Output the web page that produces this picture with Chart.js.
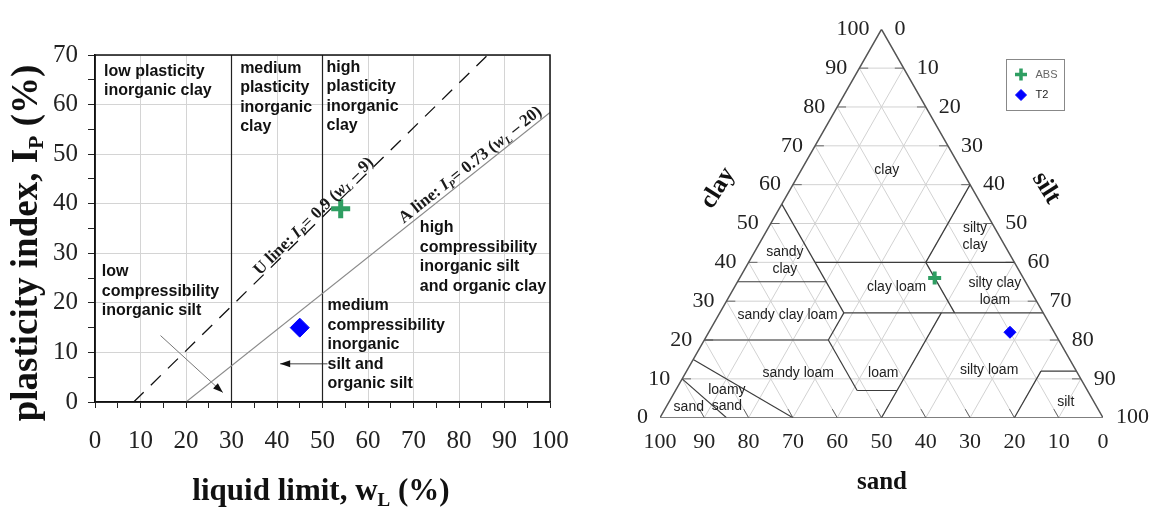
<!DOCTYPE html>
<html lang="en">
<head>
<meta charset="utf-8">
<title>Plasticity chart and soil texture triangle</title>
<script src="https://cdn.jsdelivr.net/npm/chart.js@4.4.1/dist/chart.umd.min.js"></script>
<style>
  html, body { margin: 0; padding: 0; background: #fff; }
  #wrap { position: relative; width: 1149px; height: 509px; overflow: hidden; }
  canvas { position: absolute; top: 0; }
  #plasticity-chart { left: 0; }
  #texture-chart { left: 600px; }
</style>
</head>
<body>
<div id="wrap">
  <canvas id="plasticity-chart" width="600" height="509"></canvas>
  <canvas id="texture-chart" width="549" height="509"></canvas>
</div>
<script>
// samples
const sampleNames = ["ABS", "T2"];
const liquidLimit = [54, 45];
const plasticityIndex = [39, 15];
const sampleSand = [20, 10];
const sampleClay = [36, 22];

// plasticity chart
const uLineWL = [8.5, 86.3];
const uLineIP = [0, 70];
const aLineWL = [20, 100];
const aLineIP = [0, 58.4];
const limitWL = [30, 50];
const limitIP = [0, 70];
const arrowDiagWL = [14.4, 28.1];
const arrowDiagIP = [13.4, 1.9];
const arrowFlatWL = [51.1, 40.7];
const arrowFlatIP = [7.7, 7.7];

const plasticityZones = [
  { lines: ["low plasticity", "inorganic clay"], wl: 2.0, ip: 66.7 },
  { lines: ["medium", "plasticity", "inorganic", "clay"], wl: 31.9, ip: 67.3 },
  { lines: ["high", "plasticity", "inorganic", "clay"], wl: 50.9, ip: 67.5 },
  { lines: ["low", "compressibility", "inorganic silt"], wl: 1.5, ip: 26.3 },
  { lines: ["high", "compressibility", "inorganic silt", "and organic clay"], wl: 71.4, ip: 35.1 },
  { lines: ["medium", "compressibility", "inorganic", "silt and", "organic silt"], wl: 51.1, ip: 19.4 }
];

// texture triangle (points are [sand, clay], silt = 100 - sand - clay)
const textureTicks = [0, 10, 20, 30, 40, 50, 60, 70, 80, 90, 100];
const textureBoundaries = [
  [[45, 55], [45, 27]],
  [[45, 40], [0, 40]],
  [[20, 40], [0, 60]],
  [[65, 35], [45, 35]],
  [[45, 27], [0, 27]],
  [[20, 40], [20, 27]],
  [[80, 20], [52, 20]],
  [[52, 20], [45, 27]],
  [[52, 20], [52, 7]],
  [[52, 7], [43, 7]],
  [[23, 27], [50, 0]],
  [[85, 15], [70, 0]],
  [[90, 10], [85, 0]],
  [[20, 0], [8, 12]],
  [[8, 12], [0, 12]]
];
const textureZones = [
  { lines: ["clay"], x: 51.2, y: 63.8 },
  { lines: ["silty", "clay"], x: 71.1, y: 46.6 },
  { lines: ["sandy", "clay"], x: 28.2, y: 40.5 },
  { lines: ["clay loam"], x: 53.4, y: 33.7 },
  { lines: ["silty clay", "loam"], x: 75.6, y: 32.5 },
  { lines: ["sandy clay loam"], x: 28.8, y: 26.4 },
  { lines: ["sandy loam"], x: 31.2, y: 11.6 },
  { lines: ["loam"], x: 50.4, y: 11.6 },
  { lines: ["silty loam"], x: 74.3, y: 12.3 },
  { lines: ["loamy", "sand"], x: 15.1, y: 5.0 },
  { lines: ["sand"], x: 6.5, y: 2.8 },
  { lines: ["silt"], x: 91.6, y: 4.0 }
];

const SERIF = '"Liberation Serif", "DejaVu Serif", serif';
const SANS = '"Liberation Sans", Arial, sans-serif';
const GREEN = "#2f9e62";
const BLUE = "#0000ff";

Chart.defaults.font.family = SANS;
Chart.defaults.animation = false;

function pts(xs, ys) {
  return xs.map((x, i) => ({ x: x, y: ys[i] }));
}

// ternary -> chart units
function tern(sand, clay) {
  return { x: 100 - sand - clay / 2, y: clay };
}

function drawRich(ctx, parts, x, y, align) {
  let total = 0;
  parts.forEach(p => {
    ctx.font = p.font;
    p.w = ctx.measureText(p.text).width;
    total += p.w;
  });
  let cx = align === "center" ? x - total / 2 : align === "right" ? x - total : x;
  ctx.textAlign = "left";
  parts.forEach(p => {
    ctx.font = p.font;
    ctx.fillText(p.text, cx, y + (p.dy || 0));
    cx += p.w;
  });
}

function lineLabel(ctx, chart, index, t, parts, offset) {
  const el = chart.getDatasetMeta(index).data;
  const p1 = el[0], p2 = el[1];
  const ang = Math.atan2(p2.y - p1.y, p2.x - p1.x);
  ctx.save();
  ctx.translate(p1.x + (p2.x - p1.x) * t, p1.y + (p2.y - p1.y) * t);
  ctx.rotate(ang);
  ctx.textBaseline = "alphabetic";
  drawRich(ctx, parts, 0, -offset, "left");
  ctx.restore();
}

function arrowHead(ctx, chart, index) {
  const el = chart.getDatasetMeta(index).data;
  const p1 = el[el.length - 2], p2 = el[el.length - 1];
  const ang = Math.atan2(p2.y - p1.y, p2.x - p1.x);
  const len = 10, half = 3.5;
  ctx.beginPath();
  ctx.moveTo(p2.x, p2.y);
  ctx.lineTo(p2.x - len * Math.cos(ang) + half * Math.sin(ang), p2.y - len * Math.sin(ang) - half * Math.cos(ang));
  ctx.lineTo(p2.x - len * Math.cos(ang) - half * Math.sin(ang), p2.y - len * Math.sin(ang) + half * Math.cos(ang));
  ctx.closePath();
  ctx.fill();
}

// ---------- left: plasticity chart ----------
const bold = s => "bold " + s + "px " + SERIF;
const boldIt = s => "italic bold " + s + "px " + SERIF;

const plasticityDecor = {
  id: "plasticityDecor",
  afterDatasetsDraw(chart) {
    const { ctx, chartArea: a, scales: { x, y } } = chart;
    ctx.save();
    ctx.strokeStyle = "#111";
    ctx.lineWidth = 1.5;
    ctx.strokeRect(a.left, a.top, a.right - a.left, a.bottom - a.top);

    ctx.fillStyle = "#111";
    arrowHead(ctx, chart, 6);
    arrowHead(ctx, chart, 7);

    ctx.font = "bold 16px " + SANS;
    ctx.textBaseline = "middle";
    ctx.textAlign = "left";
    plasticityZones.forEach(z => {
      z.lines.forEach((t, k) => {
        ctx.fillText(t, x.getPixelForValue(z.wl), y.getPixelForValue(z.ip) + k * 19.5);
      });
    });

    ctx.fillStyle = "#1a1a1a";
    lineLabel(ctx, chart, 2, 0.36, [
      { text: "U line: ", font: bold(17) },
      { text: "I", font: boldIt(17) },
      { text: "P", font: boldIt(11), dy: 3 },
      { text: "= 0.9 (", font: bold(17) },
      { text: "w", font: boldIt(17) },
      { text: "L", font: boldIt(11), dy: 3 },
      { text: " \u2013 9)", font: bold(17) }
    ], 2);
    lineLabel(ctx, chart, 3, 0.605, [
      { text: "A line: ", font: bold(17) },
      { text: "I", font: boldIt(17) },
      { text: "P", font: boldIt(11), dy: 3 },
      { text: "= 0.73 (", font: bold(17) },
      { text: "w", font: boldIt(17) },
      { text: "L", font: boldIt(11), dy: 3 },
      { text: " \u2013 20)", font: bold(17) }
    ], 4);
    ctx.restore();
  },
  afterDraw(chart) {
    const { ctx } = chart;
    ctx.save();
    ctx.fillStyle = "#111";
    ctx.textBaseline = "alphabetic";
    ctx.translate(37, 243);
    ctx.rotate(-Math.PI / 2);
    drawRich(ctx, [
      { text: "plasticity index, I", font: bold(37) },
      { text: "P", font: bold(22), dy: 6 },
      { text: " (%)", font: bold(37) }
    ], 0, 0, "center");
    ctx.restore();
    ctx.save();
    ctx.fillStyle = "#111";
    ctx.textBaseline = "alphabetic";
    drawRich(ctx, [
      { text: "liquid limit, w", font: bold(31) },
      { text: "L", font: bold(19), dy: 6 },
      { text: " (%)", font: bold(31) }
    ], 321, 500, "center");
    ctx.restore();
  }
};

new Chart(document.getElementById("plasticity-chart"), {
  type: "scatter",
  data: {
    datasets: [
      {
        label: sampleNames[0],
        data: [{ x: liquidLimit[0], y: plasticityIndex[0] }],
        pointStyle: "cross",
        pointRadius: 9.5,
        pointBorderWidth: 5,
        pointBorderColor: GREEN,
        pointBackgroundColor: GREEN
      },
      {
        label: sampleNames[1],
        data: [{ x: liquidLimit[1], y: plasticityIndex[1] }],
        pointStyle: "rectRot",
        pointRadius: 9.5,
        pointBorderWidth: 1,
        pointBorderColor: BLUE,
        pointBackgroundColor: BLUE
      },
      {
        label: "U line",
        data: pts(uLineWL, uLineIP),
        showLine: true,
        borderColor: "#111",
        borderWidth: 1.3,
        borderDash: [14, 10],
        pointRadius: 0
      },
      {
        label: "A line",
        data: pts(aLineWL, aLineIP),
        showLine: true,
        borderColor: "#8a8a8a",
        borderWidth: 1.1,
        pointRadius: 0
      },
      {
        label: "wL 30",
        data: pts([limitWL[0], limitWL[0]], limitIP),
        showLine: true,
        borderColor: "#222",
        borderWidth: 1.2,
        pointRadius: 0
      },
      {
        label: "wL 50",
        data: pts([limitWL[1], limitWL[1]], limitIP),
        showLine: true,
        borderColor: "#222",
        borderWidth: 1.2,
        pointRadius: 0
      },
      {
        label: "arrow 1",
        data: pts(arrowDiagWL, arrowDiagIP),
        showLine: true,
        borderColor: "#777",
        borderWidth: 1,
        pointRadius: 0
      },
      {
        label: "arrow 2",
        data: pts(arrowFlatWL, arrowFlatIP),
        showLine: true,
        borderColor: "#444",
        borderWidth: 1,
        pointRadius: 0
      }
    ]
  },
  plugins: [plasticityDecor],
  options: {
    responsive: false,
    events: [],
    layout: { padding: { left: 0, top: 55, right: 50, bottom: 0 } },
    plugins: { legend: { display: false }, tooltip: { enabled: false } },
    scales: {
      x: {
        type: "linear",
        min: 0,
        max: 100,
        afterFit(s) { s.height = 107; },
        ticks: {
          stepSize: 5,
          autoSkip: false,
          maxRotation: 0,
          padding: 18,
          color: "#222",
          font: { family: SERIF, size: 25 },
          callback: v => (v % 10 === 0 ? v : "")
        },
        grid: {
          color: c => (c.tick && c.tick.value % 10 === 0 ? "#d4d4d4" : "rgba(0,0,0,0)"),
          tickColor: "#222",
          tickLength: 6,
          lineWidth: 1
        },
        border: { color: "#111", width: 1.5 }
      },
      y: {
        type: "linear",
        min: 0,
        max: 70,
        afterFit(s) { s.width = 95; },
        ticks: {
          stepSize: 5,
          autoSkip: false,
          padding: 10,
          color: "#222",
          font: { family: SERIF, size: 25 },
          callback: v => (v % 10 === 0 ? v : "")
        },
        grid: {
          color: c => (c.tick && c.tick.value % 10 === 0 ? "#d4d4d4" : "rgba(0,0,0,0)"),
          tickColor: "#222",
          tickLength: 7,
          lineWidth: 1
        },
        border: { color: "#111", width: 1.5 }
      }
    }
  }
});

// ---------- right: soil texture triangle ----------
const gridSteps = textureTicks.slice(1, -1);
const gridDatasets = [];
gridSteps.forEach(v => {
  [
    [[100 - v, v], [0, v]],
    [[v, 0], [v, 100 - v]],
    [[100 - v, 0], [0, 100 - v]]
  ].forEach(seg => {
    gridDatasets.push({
      data: seg.map(p => tern(p[0], p[1])),
      showLine: true,
      borderColor: "#d2d2d2",
      borderWidth: 1,
      pointRadius: 0
    });
  });
});
const tickDatasets = [];
gridSteps.forEach(v => {
  [
    [[100 - v, v], [100 - v - 2, v]],
    [[0, v], [2, v]],
    [[v, 0], [v, 2.2]]
  ].forEach(seg => {
    tickDatasets.push({
      data: seg.map(p => tern(p[0], p[1])),
      showLine: true,
      borderColor: "#666",
      borderWidth: 1,
      pointRadius: 0
    });
  });
});
const boundaryDatasets = textureBoundaries.map(seg => ({
  data: seg.map(p => tern(p[0], p[1])),
  showLine: true,
  borderColor: "#3c3c3c",
  borderWidth: 1.2,
  pointRadius: 0
}));

const textureDecor = {
  id: "textureDecor",
  afterDraw(chart) {
    const { ctx, scales: { x, y } } = chart;
    const at = (sand, clay) => {
      const p = tern(sand, clay);
      return { px: x.getPixelForValue(p.x), py: y.getPixelForValue(p.y) };
    };
    ctx.save();
    ctx.fillStyle = "#222";
    ctx.font = "22px " + SERIF;
    ctx.textBaseline = "middle";
    textureTicks.forEach(v => {
      let p = at(100 - v, v);
      ctx.textAlign = "right";
      ctx.fillText(String(v), p.px - 12, p.py);
      p = at(0, 100 - v);
      ctx.textAlign = "left";
      ctx.fillText(String(v), p.px + 13, p.py);
      p = at(v, 0);
      ctx.textAlign = "center";
      ctx.fillText(String(v), p.px, p.py + 25);
    });

    ctx.fillStyle = "#111";
    ctx.font = "bold 25px " + SERIF;
    ctx.textAlign = "center";
    ctx.save();
    ctx.translate(118, 188);
    ctx.rotate(-58 * Math.PI / 180);
    ctx.fillText("clay", 0, 0);
    ctx.restore();
    ctx.save();
    ctx.translate(446, 188);
    ctx.rotate(58 * Math.PI / 180);
    ctx.fillText("silt", 0, 0);
    ctx.restore();
    ctx.fillText("sand", 282, 483);

    ctx.fillStyle = "#222";
    ctx.font = "14px " + SANS;
    textureZones.forEach(z => {
      const cx = x.getPixelForValue(z.x);
      const cy = y.getPixelForValue(z.y) - (z.lines.length - 1) * 8.3;
      z.lines.forEach((t, k) => ctx.fillText(t, cx, cy + k * 16.6));
    });

    // legend
    ctx.strokeStyle = "#888";
    ctx.lineWidth = 1;
    ctx.strokeRect(406.5, 59.5, 58, 51);
    ctx.strokeStyle = GREEN;
    ctx.fillStyle = GREEN;
    ctx.lineWidth = 3.5;
    Chart.helpers.drawPoint(ctx, { pointStyle: "cross", radius: 6, borderWidth: 3.5, rotation: 0 }, 421, 74.5);
    ctx.fillStyle = BLUE;
    ctx.strokeStyle = BLUE;
    ctx.lineWidth = 1;
    Chart.helpers.drawPoint(ctx, { pointStyle: "rectRot", radius: 5.5, borderWidth: 1, rotation: 0 }, 421, 95);
    ctx.textAlign = "left";
    ctx.font = "11px " + SANS;
    ctx.fillStyle = "#666";
    ctx.fillText(sampleNames[0], 435.5, 74.5);
    ctx.fillStyle = "#222";
    ctx.fillText(sampleNames[1], 435.5, 95);
    ctx.restore();
  }
};

new Chart(document.getElementById("texture-chart"), {
  type: "scatter",
  data: {
    datasets: [
      {
        label: sampleNames[0],
        data: [tern(sampleSand[0], sampleClay[0])],
        pointStyle: "cross",
        pointRadius: 6.5,
        pointBorderWidth: 4,
        pointBorderColor: GREEN,
        pointBackgroundColor: GREEN
      },
      {
        label: sampleNames[1],
        data: [tern(sampleSand[1], sampleClay[1])],
        pointStyle: "rectRot",
        pointRadius: 6,
        pointBorderWidth: 1,
        pointBorderColor: BLUE,
        pointBackgroundColor: BLUE
      },
      {
        label: "outline",
        data: [tern(100, 0), tern(0, 0), tern(0, 100), tern(100, 0)],
        showLine: true,
        borderColor: "#555",
        borderWidth: 1.5,
        pointRadius: 0
      },
      ...boundaryDatasets,
      ...tickDatasets,
      ...gridDatasets
    ]
  },
  plugins: [textureDecor],
  options: {
    responsive: false,
    events: [],
    layout: { padding: { left: 60, top: 29.3, right: 46, bottom: 91.3 } },
    plugins: { legend: { display: false }, tooltip: { enabled: false } },
    scales: {
      x: { type: "linear", min: 0, max: 100, display: false },
      y: { type: "linear", min: 0, max: 100, display: false }
    }
  }
});
</script>
</body>
</html>
